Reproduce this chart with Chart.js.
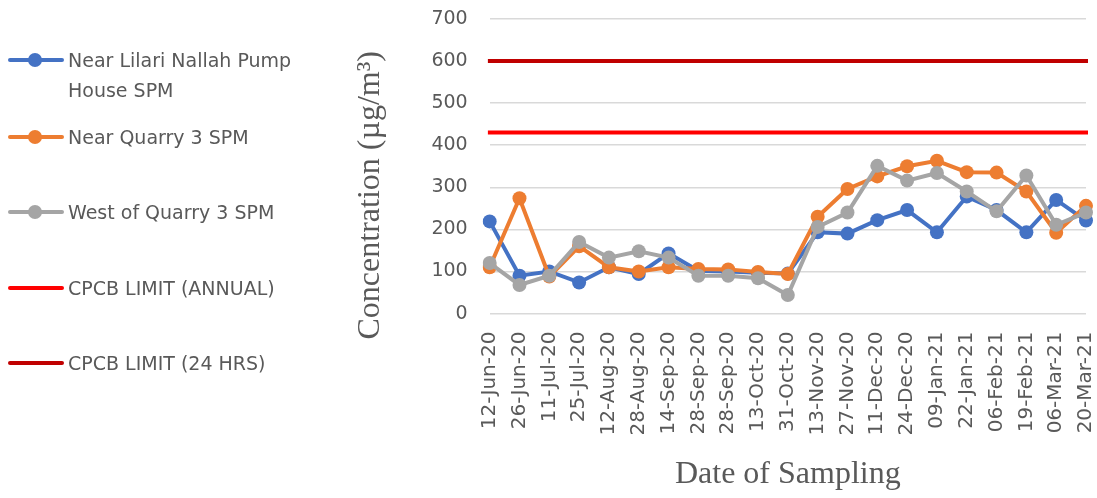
<!DOCTYPE html>
<html>
<head>
<meta charset="utf-8">
<script src="https://cdn.jsdelivr.net/npm/chart.js@4"></script>
<style>
  html, body { margin: 0; padding: 0; background: #fff; }
  #wrap { position: relative; width: 1097px; height: 498px; }
  #chart { position: absolute; left: 0; top: 0; }
  .leg { position: absolute; left: 8px; font-family: "DejaVu Sans", sans-serif; font-size: 19px; color: #595959; line-height: 30px; }
  .leg svg { position: absolute; left: 0; top: 8px; }
  .leg span { display: block; margin-left: 60px; }
</style>
</head>
<body>
<div id="wrap">
  <canvas id="chart" width="1097" height="498"></canvas>
  <div id="legend"></div>
</div>
<script>
const labels = ["12-Jun-20", "26-Jun-20", "11-Jul-20", "25-Jul-20", "12-Aug-20", "28-Aug-20", "14-Sep-20",
  "28-Sep-20", "28-Sep-20", "13-Oct-20", "31-Oct-20", "13-Nov-20", "27-Nov-20", "11-Dec-20", "24-Dec-20",
  "09-Jan-21", "22-Jan-21", "06-Feb-21", "19-Feb-21", "06-Mar-21", "20-Mar-21"];

const lilariSpm = [219, 90, 100, 74, 110, 94, 143, 102, 100, 97, 95, 193, 190, 222, 246, 193, 278, 246, 193, 270, 221];
const quarrySpm = [110, 274, 88, 160, 110, 100, 110, 106, 105, 99, 94, 230, 296, 326, 350, 363, 336, 335, 290, 192, 256];
const westSpm = [120, 68, 90, 170, 133, 148, 133, 90, 90, 84, 44, 206, 240, 351, 316, 334, 290, 243, 328, 211, 240];
const limitAnnual = [430, 430, 430, 430, 430, 430, 430, 430, 430, 430, 430, 430, 430, 430, 430, 430, 430, 430, 430, 430, 430];
const limit24h = [600, 600, 600, 600, 600, 600, 600, 600, 600, 600, 600, 600, 600, 600, 600, 600, 600, 600, 600, 600, 600];

const yTicks = [0, 100, 200, 300, 400, 500, 600, 700];

const textColor = "#595959";

function series(label, data, color, order) {
  return {
    label, data, order,
    borderColor: color, backgroundColor: color,
    borderWidth: 4,
    pointRadius: 7, pointHoverRadius: 7,
    pointBorderWidth: 0,
    tension: 0
  };
}

function limitLine(label, data, color) {
  return {
    label, data, order: 5,
    borderColor: color, backgroundColor: color,
    borderWidth: 4, pointRadius: 0, borderCapStyle: "square"
  };
}

const datasets = [
  series("Near Lilari Nallah Pump House SPM", lilariSpm, "#4472c4", 2),
  series("Near Quarry 3 SPM", quarrySpm, "#ed7d31", 1),
  series("West of Quarry 3 SPM", westSpm, "#a5a5a5", 0),
  limitLine("CPCB LIMIT (ANNUAL)", limitAnnual, "#ff0000"),
  limitLine("CPCB LIMIT (24 HRS)", limit24h, "#c00000")
];

// html legend on the left, like the excel one
const legendPos = [45, 122, 197, 273, 348];
const legendEl = document.getElementById("legend");
datasets.forEach((ds, i) => {
  const div = document.createElement("div");
  div.className = "leg";
  div.style.top = legendPos[i] + "px";
  const marker = ds.pointRadius ? `<circle cx="27" cy="7" r="7" fill="${ds.borderColor}"/>` : "";
  div.innerHTML = `<svg width="56" height="14"><line x1="2" y1="7" x2="54" y2="7" stroke="${ds.borderColor}" stroke-width="4" stroke-linecap="round"/>${marker}</svg>`;
  const words = ds.label === "Near Lilari Nallah Pump House SPM"
    ? ["Near Lilari Nallah Pump", "House SPM"] : [ds.label];
  for (const w of words) {
    const s = document.createElement("span");
    s.textContent = w;
    div.appendChild(s);
  }
  legendEl.appendChild(div);
});

// excel centres the y title a bit lower than the plot area
function shiftTitle(axis) {
  if (axis._titleShifted) return;
  axis._titleShifted = true;
  const orig = axis.drawTitle;
  axis.drawTitle = function () {
    const t = this.top, b = this.bottom;
    this.top += 29; this.bottom += 29;
    orig.call(this);
    this.top = t; this.bottom = b;
  };
}

new Chart(document.getElementById("chart"), {
  type: "line",
  data: { labels, datasets },
  options: {
    responsive: false,
    animation: false,
    layout: { padding: { left: 351, top: 19, right: 11, bottom: 4 } },
    plugins: { legend: { display: false }, tooltip: { enabled: false } },
    scales: {
      x: {
        offset: false,
        grid: { display: false },
        border: { display: false },
        afterFit: (axis) => { axis.paddingLeft = 0; axis.paddingRight = 0; },
        ticks: {
          autoSkip: false, minRotation: 90, maxRotation: 90, padding: 10,
          color: textColor, font: { family: "DejaVu Sans", size: 20 }
        },
        title: {
          display: true, text: "Date of Sampling", color: textColor,
          font: { family: "Liberation Serif", size: 32 },
          padding: { top: 10, bottom: 0 }
        }
      },
      y: {
        min: 0, max: 700,
        afterBuildTicks: (axis) => { axis.ticks = yTicks.map((v) => ({ value: v })); },
        afterFit: (axis) => { axis.paddingTop = 0; axis.paddingBottom = 0; shiftTitle(axis); },
        grid: { color: "#d9d9d9", lineWidth: 1.5, drawTicks: false },
        border: { display: false },
        ticks: {
          padding: 22, color: textColor,
          font: { family: "DejaVu Sans", size: 19 }
        },
        title: {
          display: true, text: "Concentration (µg/m³)", color: textColor,
          font: { family: "Liberation Serif", size: 32 },
          padding: { top: 0, bottom: 20 }
        }
      }
    }
  }
});
</script>
</body>
</html>
